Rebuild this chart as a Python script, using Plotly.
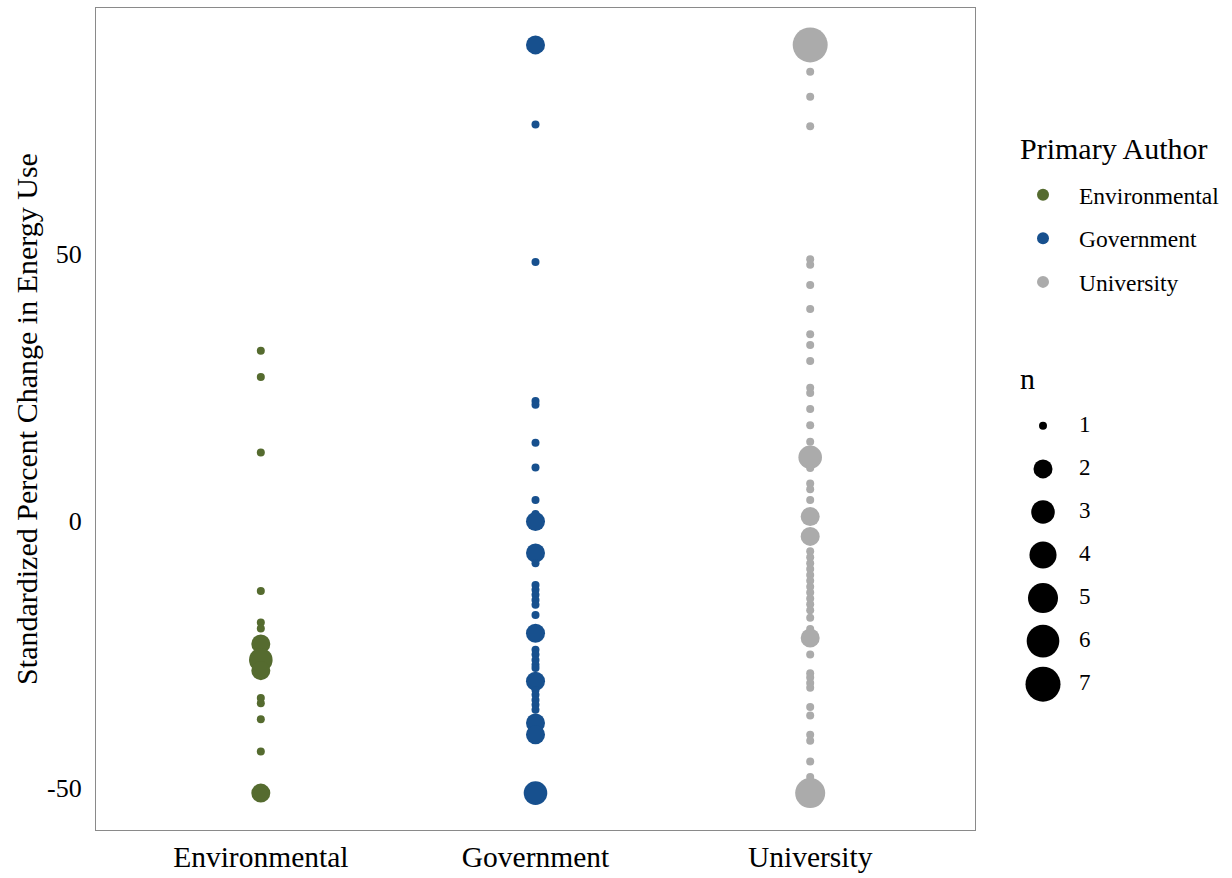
import plotly.graph_objects as go

categories = ["Environmental", "Government", "University"]
colors = {"Environmental": "#556B2F", "Government": "#17508E", "University": "#ABABAB"}

env_vals = [31.8, 26.9, 12.8, -13.1, -19.0, -20.1, -23.0, -26.0, -28.0, -33.1, -34.1, -37.1, -43.1, -50.9]
env_n = [1, 1, 1, 1, 1, 1, 2, 3, 2, 1, 1, 1, 1, 2]

gov_vals = [89.0, 74.1, 48.4, 22.4, 21.7, 14.6, 10.0, 3.9, 1.3, -0.1, -6.0, -7.9,
            -12.0, -12.9, -13.8, -14.8, -15.7, -17.6, -21.0, -24.1, -25.0, -26.0,
            -26.9, -27.5, -30.0, -31.6, -32.5, -33.5, -34.4, -35.3, -37.8, -40.0, -50.9]
gov_n = [2, 1, 1, 1, 1, 1, 1, 1, 1, 2, 2, 1,
         1, 1, 1, 1, 1, 1, 2, 1, 1, 1,
         1, 1, 2, 1, 1, 1, 1, 1, 2, 2, 3]

uni_vals = [89.0, 84.0, 79.3, 73.8, 48.9, 47.9, 44.1, 39.6, 34.9, 32.9, 29.9, 24.9,
            23.9, 20.9, 17.9, 14.8, 11.9, 9.9, 7.0, 5.9, 3.9, 0.8, -2.9, -5.7,
            -6.8, -7.9, -9.0, -10.1, -11.2, -12.3, -13.4, -14.5, -15.6, -16.7, -18.1,
            -20.2, -21.9, -25.0, -28.5, -29.3, -30.3, -31.2, -34.8, -36.4, -40.0,
            -41.1, -45.0, -47.9, -50.9]
uni_n = [7, 1, 1, 1, 1, 1, 1, 1, 1, 1, 1, 1,
         1, 1, 1, 1, 3, 1, 1, 1, 1, 2, 2, 1,
         1, 1, 1, 1, 1, 1, 1, 1, 1, 1, 1,
         1, 2, 1, 1, 1, 1, 1, 1, 1, 1,
         1, 1, 1, 5]

n_levels = [1, 2, 3, 4, 5, 6, 7]
y_ticks = [-50, 0, 50]

FONT = "Liberation Serif"
W, H = 1232, 878
PL, PR, PT, PB = 96, 975, 8, 830  # panel pixel box


def size_px(n):
    # ggplot2-style area scale: diameter from 8px (n=1) to 35px (n=7)
    return 8 + 27 * ((n - 1) / 6) ** 0.5


series = {
    "Environmental": (env_vals, env_n),
    "Government": (gov_vals, gov_n),
    "University": (uni_vals, uni_n),
}

fig = go.Figure()
for cat in categories:
    vals, ns = series[cat]
    fig.add_trace(go.Scatter(
        x=[cat] * len(vals), y=vals, mode="markers", name=cat,
        marker=dict(color=colors[cat], size=[size_px(n) for n in ns], line=dict(width=0), opacity=1),
        legendgroup=cat, showlegend=True,
    ))

# size legend ("n") drawn on an auxiliary axis
fig.add_trace(go.Scatter(
    x=[0] * len(n_levels), y=n_levels, mode="markers",
    marker=dict(color="#000000", size=[size_px(n) for n in n_levels], line=dict(width=0), opacity=1),
    xaxis="x2", yaxis="y2", showlegend=False, hoverinfo="skip",
))
fig.add_trace(go.Scatter(
    x=[0.36] * len(n_levels), y=n_levels, mode="text", text=[str(n) for n in n_levels],
    textposition="middle right", textfont=dict(family=FONT, size=23, color="black"),
    xaxis="x2", yaxis="y2", showlegend=False, hoverinfo="skip",
))

fig.update_layout(
    width=W, height=H,
    margin=dict(l=0, r=0, t=0, b=0),
    paper_bgcolor="white", plot_bgcolor="white",
    font=dict(family=FONT, color="black"),
    xaxis=dict(
        domain=[PL / W, PR / W], type="category", categoryorder="array", categoryarray=categories,
        range=[-0.6, 2.6], showgrid=False, zeroline=False,
        showline=True, mirror=True, linecolor="#8a8a8a", linewidth=1.2,
        ticks="", tickfont=dict(size=29.5, family=FONT, color="black"), ticklabelstandoff=0,
    ),
    yaxis=dict(
        domain=[(H - PB) / H, (H - PT) / H], range=[-57.8, 95.9],
        tickvals=y_ticks, ticktext=[str(v) for v in y_ticks],
        showgrid=False, zeroline=False,
        showline=True, mirror=True, linecolor="#8a8a8a", linewidth=1.2,
        ticks="", tickfont=dict(size=26, family=FONT, color="black"), ticklabelstandoff=8,
        title=dict(text="Standardized Percent Change in Energy Use", font=dict(size=30, family=FONT, color="black"), standoff=0),
    ),
    xaxis2=dict(domain=[1023 / W, 1123 / W], range=[-0.2, 0.8], visible=False, fixedrange=True),
    yaxis2=dict(domain=[(H - 710) / H, (H - 400) / H], range=[7.6, 0.4], visible=False, fixedrange=True, anchor="x2"),
    legend=dict(
        x=1007 / W, y=(H - 173) / H, xanchor="left", yanchor="top",
        font=dict(size=23.5, family=FONT, color="black"),
        itemsizing="constant", itemwidth=62, tracegroupgap=10, bgcolor="rgba(0,0,0,0)",
    ),
    annotations=[
        dict(text="Primary Author", xref="paper", yref="paper", x=1018 / W, y=(H - 148) / H,
             xanchor="left", yanchor="middle", showarrow=False,
             font=dict(size=30, family=FONT, color="black")),
        dict(text="n", xref="paper", yref="paper", x=1018 / W, y=(H - 378) / H,
             xanchor="left", yanchor="middle", showarrow=False,
             font=dict(size=30, family=FONT, color="black")),
    ],
    showlegend=True,
)

fig.write_html("out.html", config={"displayModeBar": False},
               post_script="document.body.style.margin='0';document.body.style.padding='0';")
